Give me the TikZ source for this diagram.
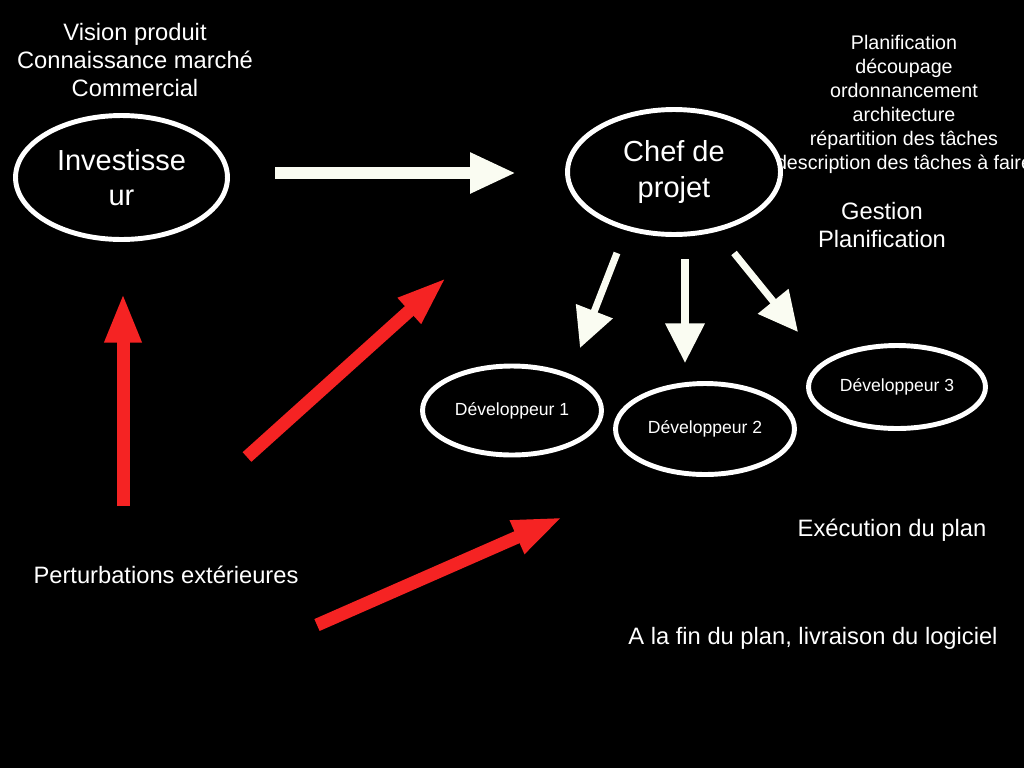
\documentclass[tikz,border=0pt]{standalone}
\usepackage{fontspec}
\setmainfont{Liberation Sans}
\usetikzlibrary{arrows.meta,shapes.geometric}
\definecolor{arrw}{RGB}{250,252,242}
\definecolor{arred}{RGB}{245,35,35}
\begin{document}
\begin{tikzpicture}[x=0.02cm,y=-0.02cm,
  txt/.style={text=white, font=\fontsize{13.5}{15.9}\selectfont, align=center, inner sep=0pt},
  smalltxt/.style={text=white, font=\fontsize{11.2}{13.66}\selectfont, align=center, inner sep=0pt},
  bigtxt/.style={text=white, font=\fontsize{16.5}{20}\selectfont, align=center},
  devtxt/.style={text=white, font=\fontsize{10}{12}\selectfont},
  ell/.style={draw=white, line width=2.8pt, ellipse, fill=black, inner sep=0pt},
  bigwhite/.style={arrw, line width=6.8pt, -{Triangle[length=26.1pt,width=21.5pt]}},
  smallwhite/.style={arrw, line width=4pt, -{Triangle[length=22.5pt,width=21.5pt]}},
  redarrow/.style={arred, line width=7.4pt, -{Triangle[length=28.6pt,width=18.7pt]}}
]
\fill[black] (0,0) rectangle (1024,768);
\useasboundingbox (0,0) rectangle (1024,768);
\clip (0,0) rectangle (1024,768);

% texts
\node[txt] (vision) at (135,60) {Vision produit\\Connaissance marché\\Commercial};
\node[smalltxt] (plan) at (904,104) {Planification\\découpage\\ordonnancement\\architecture\\répartition des tâches\\description des tâches à faire};
\node[txt] (gestion) at (882,225) {Gestion\\Planification};
\node[txt] (exec) at (892,530) {Exécution du plan};
\node[txt] (pert) at (166,575) {Perturbations extérieures};
\node[txt] (livr) at (813,638) {A la fin du plan, livraison du logiciel};

% ellipses
\node[ell, bigtxt, minimum width=4.24cm, minimum height=2.48cm] (inv) at (121.5,177.5) {Investisse\\ur};
\node[ell, bigtxt, minimum width=4.26cm, minimum height=2.5cm] (chef) at (674,172) {Chef de\\projet};
\node[ell, devtxt, minimum width=3.58cm, minimum height=1.78cm] (dev1) at (512,410.5) {Développeur 1};
\node[ell, devtxt, minimum width=3.58cm, minimum height=1.82cm] (dev2) at (705,429) {Développeur 2};
\node[ell, devtxt, minimum width=3.54cm, minimum height=1.66cm] (dev3) at (897,387) {Développeur 3};

% arrow end points
\coordinate (h1) at (275,173);  \coordinate (h2) at (516,173);
\coordinate (a1) at (617,253);  \coordinate (a2) at (580,348);
\coordinate (b1) at (685,259);  \coordinate (b2) at (685,363);
\coordinate (c1) at (734,253);  \coordinate (c2) at (798,332);
\coordinate (r1) at (123,506);  \coordinate (r2) at (123,293);
\coordinate (s1) at (247,457);  \coordinate (s2) at (447,277);
\coordinate (t1) at (317,625);  \coordinate (t2) at (563,517);

\draw[bigwhite] (h1) -- (h2);
\draw[smallwhite] (a1) -- (a2);
\draw[smallwhite, line width=4.3pt] (b1) -- (b2);
\draw[smallwhite] (c1) -- (c2);
\draw[redarrow, -{Triangle[length=28.3pt,width=19.3pt]}] (r1) -- (r2);
\draw[redarrow, -{Triangle[length=28.9pt,width=17.6pt]}] (s1) -- (s2);
\draw[redarrow] (t1) -- (t2);
\end{tikzpicture}
\end{document}
